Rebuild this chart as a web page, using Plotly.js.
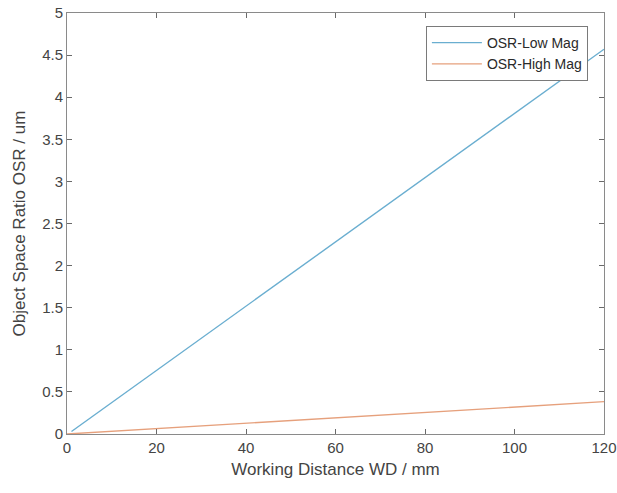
<!DOCTYPE html>
<html>
<head>
<meta charset="utf-8">
<script src="https://cdn.plot.ly/plotly-3.0.1.min.js"></script>
<style>html,body{margin:0;padding:0;background:#fff;}#chart{width:617px;height:493px;}</style>
</head>
<body>
<div id="chart"></div>
<script>
const lowMagWD = [1, 120];
const lowMagOSR = [0.03, 4.57];
const highMagWD = [0, 120];
const highMagOSR = [0, 0.384];
const seriesNames = ['OSR-Low Mag', 'OSR-High Mag'];
const xTicks = [0, 20, 40, 60, 80, 100, 120];
const yTicks = [0, 0.5, 1, 1.5, 2, 2.5, 3, 3.5, 4, 4.5, 5];

const FONT = 'Liberation Sans, Arial, sans-serif';

const traces = [
  {x: lowMagWD, y: lowMagOSR, mode: 'lines', name: seriesNames[0], line: {color: '#6aaed0', width: 1.4}},
  {x: highMagWD, y: highMagOSR, mode: 'lines', name: seriesNames[1], line: {color: '#e6a07c', width: 1.4}}
];

const axisCommon = {
  showline: true, mirror: 'ticks', linecolor: '#8a8a8a', linewidth: 1,
  ticks: 'inside', ticklen: 5, tickcolor: '#6a6a6a',
  showgrid: false, zeroline: false,
  tickfont: {family: FONT, size: 15, color: '#444'}
};

const layout = {
  width: 617, height: 493,
  margin: {l: 67, r: 13, t: 13, b: 59},
  paper_bgcolor: '#fff', plot_bgcolor: '#fff',
  showlegend: true,
  legend: {
    x: 0.97, y: 0.969, xanchor: 'right', yanchor: 'top',
    bgcolor: '#fff', bordercolor: '#7a7a7a', borderwidth: 1,
    font: {family: FONT, size: 14, color: '#2a2a2a'},
    tracegroupgap: 0, itemwidth: 50
  },
  xaxis: Object.assign({}, axisCommon, {
    range: [0, 120], tickvals: xTicks, ticktext: xTicks.map(String),
    title: {text: 'Working Distance WD / mm', font: {family: FONT, size: 17, color: '#444'}, standoff: 8}
  }),
  yaxis: Object.assign({}, axisCommon, {
    range: [0, 5], tickvals: yTicks, ticktext: yTicks.map(String),
    title: {text: 'Object Space Ratio OSR / um', font: {family: FONT, size: 17, color: '#444'}, standoff: 12}
  })
};

Plotly.newPlot('chart', traces, layout, {displayModeBar: false, staticPlot: true});
</script>
</body>
</html>
